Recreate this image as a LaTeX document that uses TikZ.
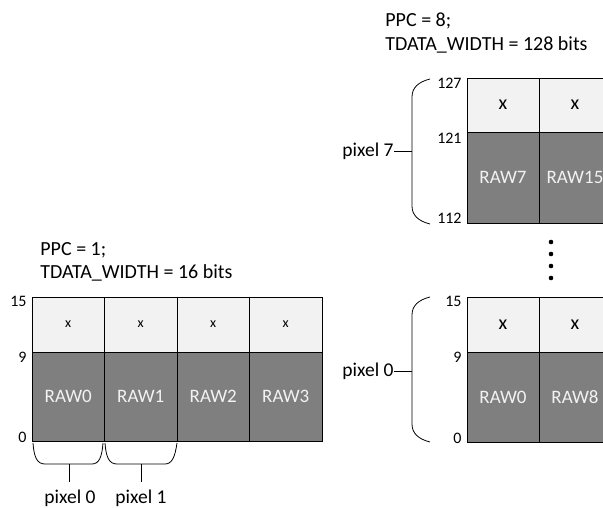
\documentclass[tikz,border=0pt]{standalone}
\usepackage{fontspec}
\setmainfont{Carlito}
\definecolor{lightcell}{HTML}{F2F2F2}
\definecolor{darkcell}{HTML}{7F7F7F}
\begin{document}
\begin{tikzpicture}[x=1pt,y=-1pt,line width=0.8pt,
  cellbox/.style={draw=black, inner sep=0pt, outer sep=0pt, anchor=north west},
  xcell/.style={cellbox, fill=lightcell},
  rawcell/.style={cellbox, fill=darkcell, text=lightcell, font=\fontsize{19}{22}\selectfont},
  bitlabel/.style={anchor=east, inner sep=0pt, font=\fontsize{16}{18}\selectfont},
  title/.style={anchor=base west, inner sep=0pt, font=\fontsize{20}{24}\selectfont},
  pixlabel/.style={inner sep=0pt, font=\fontsize{19.5}{22}\selectfont},
  bracepath/.style={line width=0.8pt},
  dot/.style={circle, fill=black, inner sep=0pt, minimum size=4.6pt},
]
\useasboundingbox (0,0) rectangle (603,508);
\clip (0,0) rectangle (603,508);

% ---------- PPC = 1 ----------
\node[title] (t1a) at (40,255) {PPC = 1;};
\node[title] (t1b) at (40,278) {TDATA\_WIDTH = 16 bits};

\foreach \i/\xx in {0/32,1/104.5,2/177,3/249.5}{
  \node[xcell, minimum width=72.5pt, minimum height=55pt, font=\fontsize{14}{16}\selectfont]
    (lx\i) at (\xx,297) {x};
  \node[rawcell, minimum width=72.5pt, minimum height=89pt] (lr\i) at (\xx,352) {RAW\i};
}
\node[bitlabel] (lb15) at (27,301) {15};
\node[bitlabel] (lb9)  at (27,357) {9};
\node[bitlabel] (lb0)  at (27,437) {0};

% braces under the first two words
\draw[bracepath] (33,443) .. controls (34,457) and (37,464) .. (45,464) -- (92,464)
  .. controls (99,464) and (102,457) .. (103,443);
\draw[bracepath] (105,443) .. controls (106,457) and (109,464) .. (117,464) -- (165,464)
  .. controls (172,464) and (175,457) .. (177,443);
\coordinate (bp0) at (69,464);
\coordinate (bp1) at (141,464);
\node[pixlabel, anchor=base] (px0) at (70,503) {pixel 0};
\node[pixlabel, anchor=base] (px1) at (141,503) {pixel 1};
\draw (bp0) -- ([yshift=7pt]bp0 |- px0.north);
\draw (bp1) -- ([yshift=7pt]bp1 |- px1.north);

% ---------- PPC = 8 ----------
\node[title] (t8a) at (385,27) {PPC = 8;};
\node[title] (t8b) at (385,51) {TDATA\_WIDTH = 128 bits};

% pixel 7 word
\node[xcell, minimum width=72pt, minimum height=54pt, font=\fontsize{20}{22}\selectfont] (hx7) at (467,78) {x};
\node[xcell, minimum width=72pt, minimum height=54pt, font=\fontsize{20}{22}\selectfont] (hx15) at (539,78) {x};
\node[rawcell, minimum width=72pt, minimum height=91pt] (hr7) at (467,132) {RAW7};
\node[rawcell, minimum width=72pt, minimum height=91pt] (hr15) at (539,132) {RAW15};
\node[bitlabel] (hb127) at (462,83) {127};
\node[bitlabel] (hb121) at (462,138) {121};
\node[bitlabel] (hb112) at (462,218) {112};
\draw[bracepath] (430,79) .. controls (418,82) and (412,88) .. (412,97) -- (412,206)
  .. controls (412,215) and (418,221) .. (430,224);
\coordinate (bp7) at (412,150);
\node[pixlabel, anchor=east] (px7) at (394,151) {pixel 7};
\draw (px7.east) -- (px7.east -| bp7);

% vertical ellipsis
\foreach \k/\yy in {1/242,2/254,3/266,4/278}{
  \node[dot] (d\k) at (551,\yy) {};
}

% pixel 0 word
\node[xcell, minimum width=72pt, minimum height=55pt, font=\fontsize{20}{22}\selectfont] (gx0) at (467,297) {x};
\node[xcell, minimum width=72pt, minimum height=55pt, font=\fontsize{20}{22}\selectfont] (gx8) at (539,297) {x};
\node[rawcell, minimum width=72pt, minimum height=90pt] (gr0) at (467,352) {RAW0};
\node[rawcell, minimum width=72pt, minimum height=90pt] (gr8) at (539,352) {RAW8};
\node[bitlabel] (gb15) at (462,301.5) {15};
\node[bitlabel] (gb9)  at (462,357) {9};
\node[bitlabel] (gb0)  at (462,438) {0};
\draw[bracepath] (430,297) .. controls (418,300) and (412,306) .. (412,315) -- (412,424)
  .. controls (412,433) and (418,439) .. (430,442);
\coordinate (bq0) at (412,370);
\node[pixlabel, anchor=east] (pq0) at (394,371) {pixel 0};
\draw (pq0.east) -- (pq0.east -| bq0);
\end{tikzpicture}
\end{document}
